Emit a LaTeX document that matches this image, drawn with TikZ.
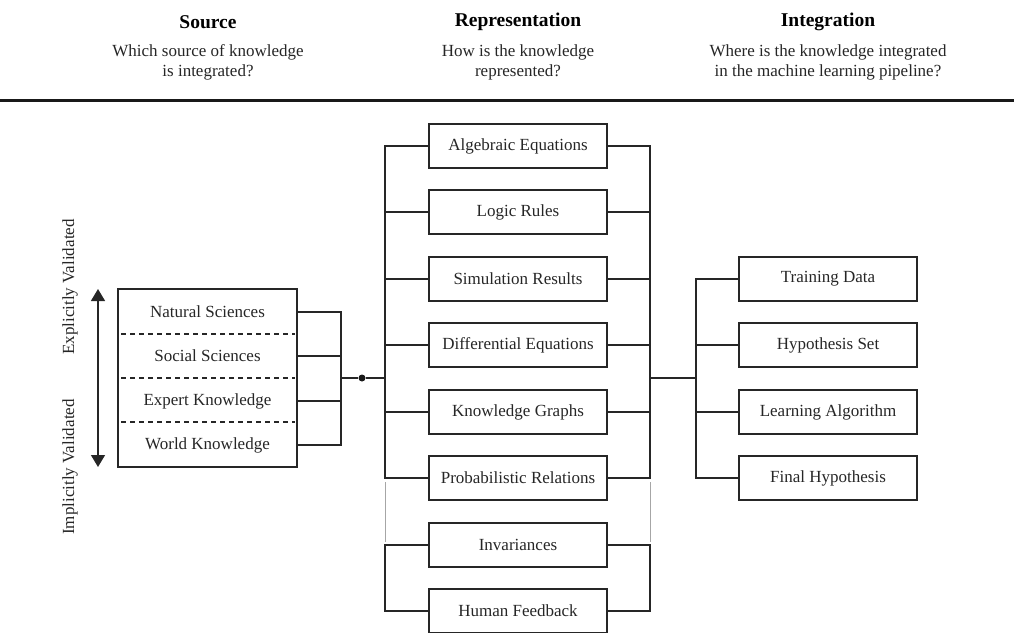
\documentclass[tikz,border=0pt]{standalone}
\usepackage{fontspec}
\setmainfont{Liberation Serif}
\usetikzlibrary{arrows.meta}
\begin{document}
\begin{tikzpicture}[x=1pt,y=-1pt,
  every node/.style={text=black!85},
  ln/.style={line width=1.4pt,black!85},
  box/.style={draw,line width=1.4pt,black!85,minimum width=178pt,minimum height=44pt,inner sep=0pt,font=\fontsize{17}{19}\selectfont},
  row/.style={minimum width=179pt,minimum height=44pt,inner sep=0pt,font=\fontsize{17}{19}\selectfont},
  ttl/.style={font=\fontsize{19.5}{22}\selectfont\bfseries,text=black},
  sub/.style={font=\fontsize{17}{20}\selectfont,align=center},
  side/.style={rotate=90,font=\fontsize{17}{19}\selectfont}]
\useasboundingbox (0,0) rectangle (1014,632);
% header
\node[ttl] (t1) at (208,22) {Source};
\node[ttl] (t2) at (518,22) {Representation};
\node[ttl] (t3) at (828,22) {Integration};
\node[sub] (s1) at (208,62.5) {Which source of knowledge\\is integrated?};
\node[sub] (s2) at (518,62.5) {How is the knowledge\\represented?};
\node[sub] (s3) at (828,62.5) {Where is the knowledge integrated\\in the machine learning pipeline?};
\coordinate (ra) at (0,100);
\coordinate (rb) at (1014,100);
\draw[line width=3pt,black!90] (ra) -- (rb);
% source box
\node[draw,line width=1.4pt,black!85,minimum width=179pt,minimum height=178pt,inner sep=0pt] (src) at (207.5,378) {};
\node[row] (ns) at (207.5,312) {Natural Sciences};
\node[row] (ss) at (207.5,356) {Social Sciences};
\node[row] (ek) at (207.5,401) {Expert Knowledge};
\node[row] (wk) at (207.5,445) {World Knowledge};
\coordinate (d1a) at (121,334); \coordinate (d1b) at (295,334);
\coordinate (d2a) at (121,378); \coordinate (d2b) at (295,378);
\coordinate (d3a) at (121,422); \coordinate (d3b) at (295,422);
\draw[line width=1.1pt,black!85,dash pattern=on 5pt off 4pt] (d1a) -- (d1b) (d2a) -- (d2b) (d3a) -- (d3b);
% arrow and side labels
\coordinate (au) at (98,289);
\coordinate (ad) at (98,467);
\draw[line width=1.4pt,black!85,{Triangle[width=14pt,length=12pt]}-{Triangle[width=14pt,length=12pt]}] (au) -- (ad);
\node[side] (ev) at (70,287) {Explicitly Validated};
\node[side] (iv) at (70,467) {Implicitly Validated};
% junctions
\coordinate (jL) at (341,378);
\coordinate (busL) at (385,378);
\coordinate (busR) at (650,378);
\coordinate (jR) at (696,378);
\node[circle,fill=black!90,inner sep=0pt,minimum size=7pt] (dot) at (362,378) {};
\foreach \n in {ns,ss,ek,wk} \draw[ln] (\n.east) -| (jL);
\draw[ln] (jL) -- (dot) -- (busL);
% middle boxes
\node[box] (m1) at (518,146) {Algebraic Equations};
\node[box] (m2) at (518,212) {Logic Rules};
\node[box] (m3) at (518,279) {Simulation Results};
\node[box] (m4) at (518,345) {Differential Equations};
\node[box] (m5) at (518,412) {Knowledge Graphs};
\node[box] (m6) at (518,478) {Probabilistic Relations};
\node[box] (m7) at (518,545) {Invariances};
\node[box] (m8) at (518,611) {Human Feedback};
\foreach \n in {m1,m2,m3,m4,m5,m6} {
  \draw[ln] (\n.west) -| (busL);
  \draw[ln] (\n.east) -| (busR);
}
\coordinate (l7) at (385,545); \coordinate (l8) at (385,611);
\coordinate (r7) at (650,545); \coordinate (r8) at (650,611);
\draw[ln] (m7.west) -- (l7) -- (l8) -- (m8.west);
\draw[ln] (m7.east) -- (r7) -- (r8) -- (m8.east);
\coordinate (gl1) at (385,482); \coordinate (gl2) at (385,542);
\coordinate (gr1) at (650,482); \coordinate (gr2) at (650,542);
\draw[line width=0.9pt,black!35] (gl1) -- (gl2) (gr1) -- (gr2);
% right boxes
\node[box] (r1) at (828,279) {Training Data};
\node[box] (r2) at (828,345) {Hypothesis Set};
\node[box] (r3) at (828,412) {Learning Algorithm};
\node[box] (r4) at (828,478) {Final Hypothesis};
\draw[ln] (busR) -- (jR);
\foreach \n in {r1,r2,r3,r4} \draw[ln] (jR) |- (\n.west);
\end{tikzpicture}
\end{document}
